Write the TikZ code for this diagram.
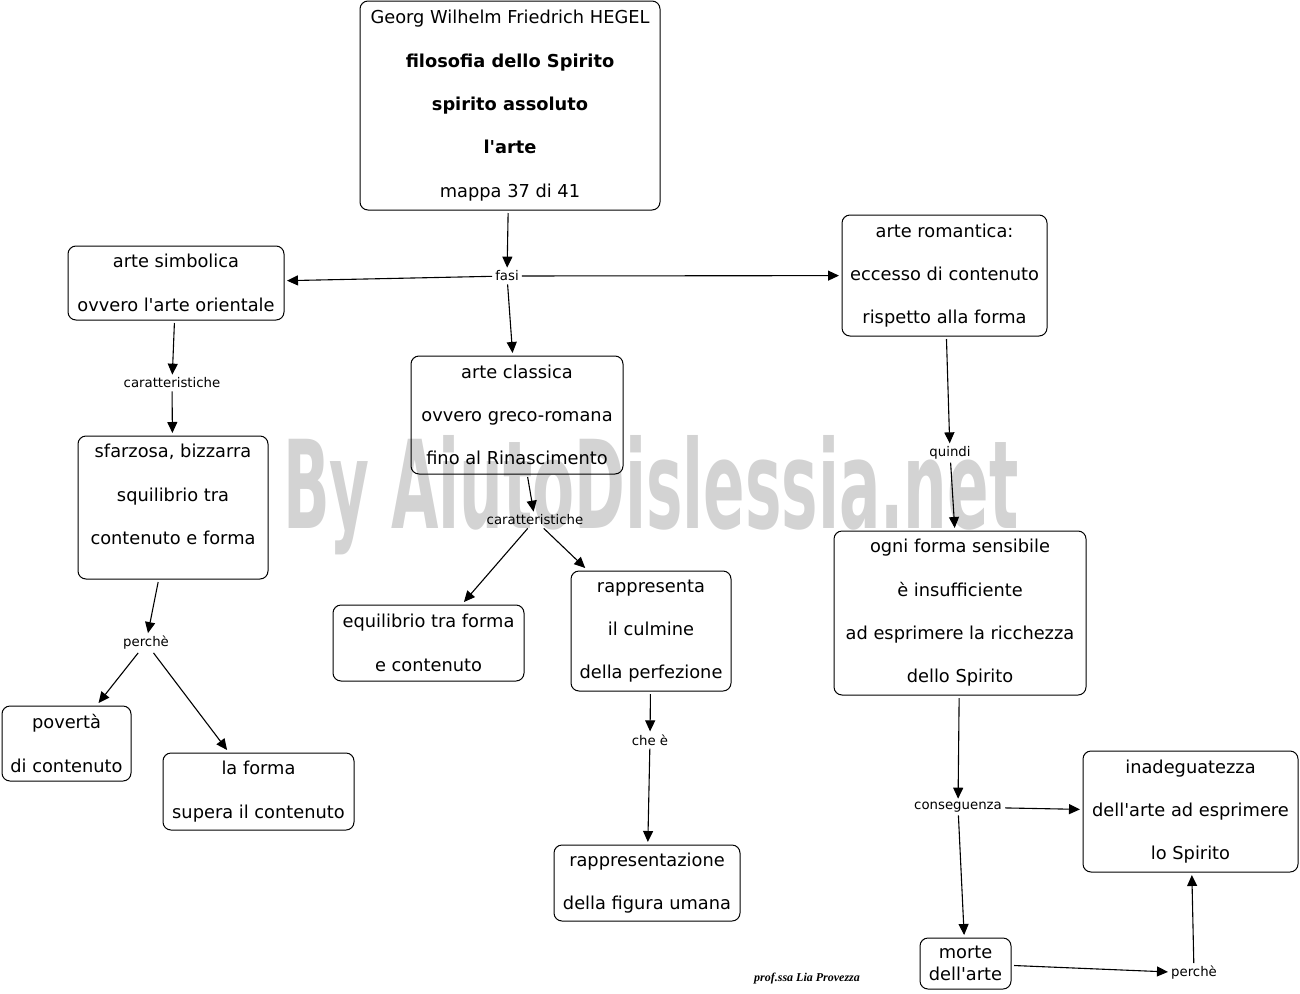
\documentclass[tikz,border=0pt]{standalone}
\usepackage{fontspec}
\setmainfont{DejaVu Sans}
\newfontfamily\markfont{DejaVu Sans Condensed}
\newfontfamily\signfont{Liberation Serif}
\usetikzlibrary{arrows.meta}
\tikzset{>={Triangle[length=11pt,width=10pt]}}
\tikzset{concept/.style={draw, rounded corners=8pt, line width=1pt, align=center, inner sep=0pt, outer sep=3pt, font=\fontsize{17.8}{43.3}\selectfont}}
\tikzset{link/.style={inner sep=3pt, font=\fontsize{13.3}{15}\selectfont}}
\tikzset{conn/.style={->, line width=1.1pt}}
\definecolor{markgray}{RGB}{211,211,211}
\newcommand{\ap}{\textquotesingle}

\begin{document}
\begin{tikzpicture}[x=1pt,y=-1pt]
      \useasboundingbox (0,0) rectangle (1300,993);
      % watermark
      \node[anchor=base west, inner sep=0pt, text=markgray] (mark) at (283,528)
        {\resizebox{735pt}{93pt}{\markfont\bfseries By AiutoDislessia.net}};
      % concepts
      \node[concept, minimum width=300pt, minimum height=209pt] (hegel) at (510,105.5)
        {Georg Wilhelm Friedrich HEGEL\\ \textbf{filosofia dello Spirito}\\ \textbf{spirito assoluto}\\ \textbf{l\ap arte}\\ mappa 37 di 41};
      \node[concept, minimum width=216pt, minimum height=74pt] (simbolica) at (176,283)
        {arte simbolica\\ ovvero l\ap arte orientale};
      \node[concept, minimum width=205pt, minimum height=121pt] (romantica) at (944.5,275.5)
        {arte romantica:\\ eccesso di contenuto\\ rispetto alla forma};
      \node[concept, minimum width=212pt, minimum height=118pt] (classica) at (517,415)
        {arte classica\\ ovvero greco-romana\\ fino al Rinascimento};
      \node[concept, minimum width=190pt, minimum height=143pt, text depth=26pt] (sfarzosa) at (173,507.5)
        {sfarzosa, bizzarra\\ squilibrio tra\\ contenuto e forma};
      \node[concept, minimum width=191pt, minimum height=76pt] (equilibrio) at (428.5,643)
        {equilibrio tra forma\\ e contenuto};
      \node[concept, minimum width=160pt, minimum height=120pt] (culmine) at (651,631)
        {rappresenta\\ il culmine\\ della perfezione};
      \node[concept, minimum width=252pt, minimum height=164pt] (sensibile) at (960,613)
        {ogni forma sensibile\\ è insufficiente\\ ad esprimere la ricchezza\\ dello Spirito};
      \node[concept, minimum width=129pt, minimum height=75pt] (poverta) at (66.5,743.5)
        {povertà\\ di contenuto};
      \node[concept, minimum width=191pt, minimum height=77pt] (supera) at (258.5,791.5)
        {la forma\\ supera il contenuto};
      \node[concept, minimum width=186pt, minimum height=76pt] (figura) at (647,883)
        {rappresentazione\\ della figura umana};
      \node[concept, minimum width=215pt, minimum height=121pt] (inadeguatezza) at (1190.5,811.5)
        {inadeguatezza\\ dell\ap arte ad esprimere\\ lo Spirito};
      \node[concept, minimum width=91pt, minimum height=51pt, font=\fontsize{17.8}{22}\selectfont] (morte) at (965.5,963.5)
        {morte\\ dell\ap arte};
      % linking phrases
      \node[link] (fasi) at (507,276) {fasi};
      \node[link] (car1) at (172,383) {caratteristiche};
      \node[link] (car2) at (535,520) {caratteristiche};
      \node[link] (perche1) at (146,643) {perchè};
      \node[link] (chee) at (650,740) {che è};
      \node[link] (quindi) at (950,453) {quindi};
      \node[link] (conseguenza) at (958,807) {conseguenza};
      \node[link] (perche2) at (1194,973) {perchè};
      % connectors
      \draw[conn] (hegel) -- (fasi);
      \draw[conn] (fasi) -- (simbolica);
      \draw[conn] (fasi) -- (romantica);
      \draw[conn] (fasi) -- (classica);
      \draw[conn] (simbolica) -- (car1);
      \draw[conn] (car1) -- (sfarzosa);
      \draw[conn] (classica) -- (car2);
      \draw[conn] (car2) -- (equilibrio);
      \draw[conn] (car2) -- (culmine);
      \draw[conn] (sfarzosa) -- (perche1);
      \draw[conn] (perche1) -- (poverta);
      \draw[conn] (perche1) -- (supera);
      \draw[conn] (culmine) -- (chee);
      \draw[conn] (chee) -- (figura);
      \draw[conn] (romantica) -- (quindi);
      \draw[conn] (quindi) -- (sensibile);
      \draw[conn] (sensibile) -- (conseguenza);
      \draw[conn] (conseguenza) -- (inadeguatezza);
      \draw[conn] (conseguenza) -- (morte);
      \draw[conn] (morte) -- (perche2);
      \draw[conn] (perche2) -- (inadeguatezza);
      % signature
      \node[inner sep=0pt, font=\signfont\bfseries\itshape\fontsize{12}{14}\selectfont] (firma) at (807,979) {prof.ssa Lia Provezza};
    \end{tikzpicture}
\end{document}
